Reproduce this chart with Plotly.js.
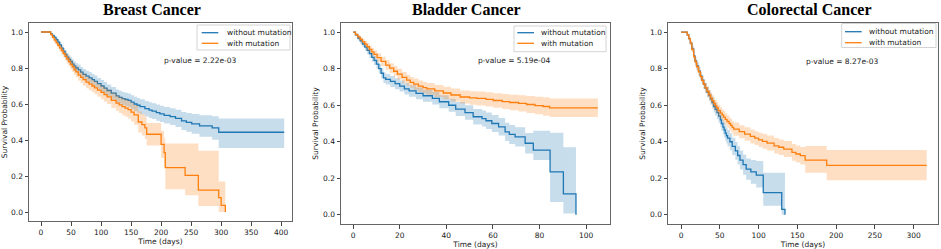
<!DOCTYPE html>
<html>
<head>
<meta charset="utf-8">
<script src="https://cdn.plot.ly/plotly-3.0.1.min.js"></script>
<style>html,body{margin:0;padding:0;background:#fff;}#chart{width:941px;height:249px;}</style>
</head>
<body>
<div id="chart"></div>
<script>
// ---------------- DATA ----------------
const panelTitles = ["Breast Cancer", "Bladder Cancer", "Colorectal Cancer"];
const seriesNames = ["without mutation", "with mutation"];
const pValues = ["p-value = 2.22e-03", "p-value = 5.19e-04", "p-value = 8.27e-03"];
const xTitle = "Time (days)";
const yTitle = "Survival Probability";

// Breast cancer – without mutation
const breastT_wo  = [0, 13, 16, 19, 22, 25, 28, 31, 34, 37, 40, 43, 46, 49, 52, 55, 58, 62, 66, 70, 75, 80, 85, 89, 94, 100, 105, 110, 117, 125, 130, 135, 140, 145, 150, 155, 160, 165, 173, 180, 185, 192, 198, 205, 215, 224, 234, 242, 251, 264, 285, 296, 405];
const breastS_wo  = [1.0, 1.0, 0.99, 0.98, 0.97, 0.957, 0.943, 0.928, 0.91, 0.893, 0.876, 0.86, 0.848, 0.836, 0.822, 0.81, 0.80, 0.79, 0.777, 0.765, 0.755, 0.745, 0.735, 0.726, 0.713, 0.70, 0.688, 0.675, 0.66, 0.645, 0.637, 0.63, 0.625, 0.62, 0.61, 0.60, 0.593, 0.585, 0.574, 0.566, 0.56, 0.552, 0.545, 0.537, 0.53, 0.52, 0.506, 0.498, 0.49, 0.478, 0.467, 0.443, 0.443];
const breastLo_wo = [1.0, 1.0, 0.985, 0.972, 0.96, 0.945, 0.929, 0.912, 0.892, 0.874, 0.856, 0.838, 0.825, 0.812, 0.797, 0.784, 0.773, 0.762, 0.748, 0.735, 0.725, 0.714, 0.704, 0.694, 0.681, 0.667, 0.654, 0.641, 0.625, 0.609, 0.601, 0.593, 0.588, 0.582, 0.571, 0.56, 0.552, 0.543, 0.531, 0.522, 0.516, 0.507, 0.50, 0.491, 0.483, 0.472, 0.456, 0.446, 0.435, 0.418, 0.402, 0.356, 0.356];
const breastHi_wo = [1.0, 1.0, 0.995, 0.988, 0.98, 0.969, 0.957, 0.944, 0.928, 0.912, 0.896, 0.882, 0.871, 0.86, 0.847, 0.836, 0.827, 0.818, 0.806, 0.795, 0.785, 0.776, 0.766, 0.758, 0.745, 0.733, 0.722, 0.709, 0.695, 0.681, 0.673, 0.667, 0.662, 0.658, 0.649, 0.64, 0.634, 0.627, 0.617, 0.61, 0.604, 0.597, 0.59, 0.583, 0.577, 0.568, 0.556, 0.55, 0.545, 0.538, 0.532, 0.52, 0.52];
// Breast cancer – with mutation
const breastT_w  = [0, 13, 16, 19, 22, 25, 28, 31, 34, 37, 40, 43, 46, 49, 52, 55, 58, 62, 66, 70, 75, 80, 85, 89, 94, 100, 105, 110, 117, 125, 130, 135, 140, 145, 150, 155, 162, 168, 173, 176, 200, 205, 207, 240, 262, 296, 300, 307];
const breastS_w  = [1.0, 1.0, 0.985, 0.97, 0.955, 0.94, 0.925, 0.91, 0.897, 0.88, 0.865, 0.85, 0.835, 0.82, 0.806, 0.79, 0.778, 0.76, 0.748, 0.735, 0.722, 0.71, 0.70, 0.69, 0.677, 0.665, 0.652, 0.64, 0.62, 0.605, 0.595, 0.585, 0.577, 0.569, 0.555, 0.54, 0.50, 0.485, 0.467, 0.432, 0.376, 0.33, 0.247, 0.204, 0.122, 0.08, 0.037, 0.0];
const breastLo_w = [1.0, 1.0, 0.979, 0.96, 0.943, 0.926, 0.909, 0.892, 0.877, 0.858, 0.841, 0.825, 0.809, 0.793, 0.778, 0.761, 0.748, 0.729, 0.716, 0.702, 0.688, 0.675, 0.665, 0.654, 0.64, 0.627, 0.613, 0.60, 0.578, 0.561, 0.55, 0.538, 0.529, 0.52, 0.503, 0.485, 0.442, 0.425, 0.405, 0.37, 0.30, 0.25, 0.126, 0.093, 0.033, 0.0, 0.0, 0.0];
const breastHi_w = [1.0, 1.0, 0.991, 0.98, 0.967, 0.954, 0.941, 0.928, 0.917, 0.902, 0.889, 0.875, 0.861, 0.847, 0.834, 0.819, 0.808, 0.791, 0.78, 0.768, 0.756, 0.745, 0.735, 0.726, 0.714, 0.703, 0.691, 0.68, 0.662, 0.649, 0.64, 0.632, 0.625, 0.618, 0.607, 0.595, 0.558, 0.545, 0.529, 0.494, 0.452, 0.41, 0.38, 0.38, 0.34, 0.17, 0.17, 0.17];

// Bladder cancer – without mutation
const bladderT_wo  = [0, 1, 2, 3, 4, 5, 6, 7, 8, 9, 10, 11, 12, 13, 14, 16, 18, 20, 22, 24, 27, 30, 34, 37, 41, 44, 48, 51.5, 55.3, 57, 59.5, 62.4, 65.2, 67, 69.5, 73.8, 77.3, 84.5, 90.2, 95.6];
const bladderS_wo  = [1.0, 0.985, 0.968, 0.952, 0.935, 0.918, 0.9, 0.882, 0.862, 0.845, 0.825, 0.80, 0.775, 0.75, 0.742, 0.73, 0.718, 0.705, 0.69, 0.678, 0.665, 0.652, 0.638, 0.619, 0.60, 0.579, 0.56, 0.537, 0.527, 0.515, 0.50, 0.482, 0.454, 0.44, 0.427, 0.392, 0.354, 0.235, 0.115, 0.0];
const bladderLo_wo = [1.0, 0.977, 0.956, 0.937, 0.918, 0.899, 0.879, 0.859, 0.838, 0.82, 0.799, 0.773, 0.747, 0.721, 0.713, 0.70, 0.688, 0.675, 0.659, 0.647, 0.633, 0.619, 0.604, 0.584, 0.564, 0.541, 0.52, 0.495, 0.483, 0.47, 0.454, 0.434, 0.404, 0.388, 0.374, 0.336, 0.30, 0.07, 0.008, 0.008];
const bladderHi_wo = [1.0, 0.993, 0.98, 0.967, 0.952, 0.937, 0.921, 0.905, 0.886, 0.87, 0.851, 0.827, 0.803, 0.779, 0.771, 0.76, 0.748, 0.735, 0.721, 0.709, 0.697, 0.685, 0.672, 0.654, 0.636, 0.617, 0.60, 0.579, 0.571, 0.56, 0.546, 0.53, 0.504, 0.492, 0.48, 0.448, 0.46, 0.45, 0.37, 0.37];
// Bladder cancer – with mutation
const bladderT_w  = [0, 1, 2, 3, 4, 5, 6, 7, 8, 9, 10.3, 12, 14, 15.7, 17.4, 19, 21, 23, 24.5, 26, 28, 30, 31.6, 35, 38.7, 42, 45.9, 50, 53, 57, 60.1, 64, 67.2, 71, 74.4, 78, 81.5, 84.3, 105];
const bladderS_w  = [1.0, 0.987, 0.974, 0.96, 0.947, 0.934, 0.92, 0.906, 0.892, 0.878, 0.86, 0.84, 0.82, 0.803, 0.786, 0.77, 0.752, 0.737, 0.725, 0.715, 0.705, 0.696, 0.689, 0.678, 0.667, 0.656, 0.645, 0.64, 0.637, 0.632, 0.626, 0.62, 0.615, 0.61, 0.604, 0.598, 0.593, 0.586, 0.586];
const bladderLo_w = [1.0, 0.981, 0.964, 0.947, 0.932, 0.917, 0.901, 0.886, 0.871, 0.856, 0.836, 0.815, 0.794, 0.776, 0.758, 0.741, 0.722, 0.707, 0.695, 0.684, 0.674, 0.665, 0.657, 0.645, 0.633, 0.621, 0.609, 0.603, 0.599, 0.593, 0.586, 0.579, 0.573, 0.566, 0.558, 0.55, 0.543, 0.535, 0.535];
const bladderHi_w = [1.0, 0.993, 0.984, 0.973, 0.962, 0.951, 0.939, 0.926, 0.913, 0.90, 0.884, 0.865, 0.846, 0.83, 0.814, 0.799, 0.782, 0.767, 0.755, 0.746, 0.736, 0.727, 0.721, 0.711, 0.701, 0.691, 0.681, 0.677, 0.675, 0.671, 0.666, 0.661, 0.657, 0.654, 0.65, 0.646, 0.643, 0.637, 0.637];

// Colorectal cancer – without mutation
const colorectalT_wo  = [0, 5.6, 8, 10, 12, 14, 16.3, 18, 20, 22.5, 24.9, 27, 29, 31, 33.5, 36, 38, 40, 42.1, 44, 46.4, 48.5, 50.7, 52, 54, 55.5, 57, 58.5, 60, 63, 66, 70, 73, 76, 80, 84, 90, 97, 106, 129.8, 134];
const colorectalS_wo  = [1.0, 1.0, 0.985, 0.965, 0.94, 0.908, 0.87, 0.842, 0.815, 0.787, 0.76, 0.737, 0.715, 0.694, 0.672, 0.653, 0.635, 0.615, 0.593, 0.578, 0.56, 0.54, 0.52, 0.50, 0.48, 0.465, 0.447, 0.433, 0.42, 0.40, 0.375, 0.35, 0.325, 0.30, 0.275, 0.25, 0.235, 0.217, 0.122, 0.03, 0.0];
const colorectalLo_wo = [1.0, 1.0, 0.979, 0.955, 0.927, 0.892, 0.852, 0.822, 0.794, 0.764, 0.736, 0.712, 0.688, 0.666, 0.643, 0.623, 0.604, 0.583, 0.56, 0.544, 0.525, 0.504, 0.482, 0.461, 0.44, 0.424, 0.405, 0.39, 0.376, 0.354, 0.328, 0.301, 0.275, 0.248, 0.22, 0.192, 0.17, 0.15, 0.05, 0.0, 0.0];
const colorectalHi_wo = [1.0, 1.0, 0.991, 0.975, 0.953, 0.924, 0.888, 0.862, 0.836, 0.81, 0.784, 0.762, 0.742, 0.722, 0.701, 0.683, 0.666, 0.647, 0.626, 0.612, 0.595, 0.576, 0.558, 0.539, 0.52, 0.506, 0.489, 0.476, 0.464, 0.446, 0.422, 0.399, 0.375, 0.352, 0.33, 0.308, 0.30, 0.295, 0.23, 0.23, 0.23];
// Colorectal cancer – with mutation
const colorectalT_w  = [0, 5.6, 8, 10, 12, 14, 16.3, 18, 20, 22.5, 24.9, 27, 29, 31, 33.5, 36, 38, 40, 42.1, 44, 46, 48, 50.7, 53, 55, 57, 59.3, 62, 64, 66, 67.9, 75, 82, 89.4, 95, 100, 105, 110.9, 120, 126, 132.4, 143, 148, 153.8, 160, 187.8, 316.7];
const colorectalS_w  = [1.0, 1.0, 0.985, 0.965, 0.94, 0.905, 0.866, 0.838, 0.81, 0.783, 0.757, 0.735, 0.715, 0.695, 0.675, 0.657, 0.64, 0.625, 0.611, 0.598, 0.585, 0.571, 0.557, 0.546, 0.535, 0.523, 0.511, 0.50, 0.49, 0.479, 0.469, 0.455, 0.442, 0.429, 0.42, 0.41, 0.402, 0.393, 0.378, 0.37, 0.36, 0.342, 0.333, 0.324, 0.30, 0.271, 0.271];
const colorectalLo_w = [1.0, 1.0, 0.979, 0.955, 0.927, 0.89, 0.849, 0.819, 0.79, 0.761, 0.735, 0.711, 0.69, 0.669, 0.648, 0.629, 0.612, 0.596, 0.581, 0.568, 0.554, 0.54, 0.525, 0.514, 0.502, 0.49, 0.477, 0.466, 0.455, 0.444, 0.433, 0.419, 0.405, 0.391, 0.382, 0.371, 0.362, 0.352, 0.336, 0.327, 0.316, 0.296, 0.286, 0.276, 0.231, 0.189, 0.189];
const colorectalHi_w = [1.0, 1.0, 0.991, 0.975, 0.953, 0.92, 0.883, 0.857, 0.83, 0.805, 0.779, 0.759, 0.74, 0.721, 0.702, 0.685, 0.668, 0.654, 0.641, 0.628, 0.616, 0.602, 0.589, 0.578, 0.568, 0.556, 0.545, 0.534, 0.525, 0.514, 0.505, 0.491, 0.479, 0.467, 0.458, 0.449, 0.442, 0.434, 0.42, 0.413, 0.404, 0.388, 0.38, 0.372, 0.377, 0.355, 0.355];

// ---------------- STYLE ----------------
const W = 941, H = 249;
const BLUE = "#1f77b4", ORANGE = "#ff7f0e";
const BLUE_FILL = "rgba(31,119,180,0.25)", ORANGE_FILL = "rgba(255,127,14,0.25)";
const FONT = "DejaVu Sans";
const FS = 7.5;
const px = v => v / W;
const py = v => 1 - v / H;

const traces = [];
function addKM(xa, ya, t, s, lo, hi, color, fill, name) {
  traces.push({x: t, y: lo, xaxis: xa, yaxis: ya, mode: "lines", line: {width: 0, shape: "hv"}, hoverinfo: "skip", showlegend: false});
  traces.push({x: t, y: hi, xaxis: xa, yaxis: ya, mode: "lines", line: {width: 0, shape: "hv"}, fill: "tonexty", fillcolor: fill, hoverinfo: "skip", showlegend: false});
  traces.push({x: t, y: s, xaxis: xa, yaxis: ya, mode: "lines", name: name, line: {color: color, width: 1.3, shape: "hv"}, showlegend: false});
}
addKM("x", "y", breastT_wo, breastS_wo, breastLo_wo, breastHi_wo, BLUE, BLUE_FILL, seriesNames[0]);
addKM("x", "y", breastT_w, breastS_w, breastLo_w, breastHi_w, ORANGE, ORANGE_FILL, seriesNames[1]);
addKM("x2", "y2", bladderT_wo, bladderS_wo, bladderLo_wo, bladderHi_wo, BLUE, BLUE_FILL, seriesNames[0]);
addKM("x2", "y2", bladderT_w, bladderS_w, bladderLo_w, bladderHi_w, ORANGE, ORANGE_FILL, seriesNames[1]);
addKM("x3", "y3", colorectalT_wo, colorectalS_wo, colorectalLo_wo, colorectalHi_wo, BLUE, BLUE_FILL, seriesNames[0]);
addKM("x3", "y3", colorectalT_w, colorectalS_w, colorectalLo_w, colorectalHi_w, ORANGE, ORANGE_FILL, seriesNames[1]);

// panel frames in pixels
const panels = [
  {l: 29, r: 292, t: 23, b: 221, xr: [-20, 418], dt: 50, title: 152, legend: {l: 197, r: 290, t: 25, b: 50, ll: 201.7, lr: 218.3, y1: 32.7, y2: 43.3, tx: 225}, pv: {x: 162.3, y: 61}},
  {l: 341, r: 610, t: 23, b: 224, xr: [-5.2, 110.2], dt: 20, title: 466, legend: {l: 514, r: 606, t: 26, b: 51.7, ll: 517.3, lr: 534, y1: 32.7, y2: 43.3, tx: 539.3}, pv: {x: 475.7, y: 61}},
  {l: 668, r: 938, t: 23, b: 224, xr: [-16.8, 331.3], dt: 50, title: 809, legend: {l: 841.7, r: 936, t: 23.5, b: 47.5, ll: 845, lr: 861.7, y1: 31.7, y2: 42.7, tx: 866.7}, pv: {x: 804.3, y: 61.7}}
];

const layout = {
  width: W, height: H,
  margin: {l: 0, r: 0, t: 0, b: 0},
  paper_bgcolor: "#fff", plot_bgcolor: "#fff",
  showlegend: false,
  font: {family: FONT, size: FS, color: "#222"},
  shapes: [], annotations: []
};

panels.forEach((p, i) => {
  const sx = i === 0 ? "" : String(i + 1);
  layout["xaxis" + sx] = {
    domain: [px(p.l), px(p.r)], anchor: "y" + sx, range: p.xr,
    dtick: p.dt, tick0: 0, ticks: "outside", ticklen: 3.5, tickwidth: 1, tickcolor: "#444",
    showline: true, mirror: true, linecolor: "#666", linewidth: 1,
    showgrid: false, zeroline: false,
    tickfont: {family: FONT, size: FS, color: "#1a1a1a"},
    title: {text: xTitle, font: {family: FONT, size: FS, color: "#1a1a1a"}, standoff: 2}
  };
  layout["yaxis" + sx] = {
    domain: [py(p.b), py(p.t)], anchor: "x" + sx, range: [-0.05, 1.05],
    dtick: 0.2, tick0: 0, tickformat: ".1f", ticks: "outside", ticklen: 3.5, tickwidth: 1, tickcolor: "#444",
    showline: true, mirror: true, linecolor: "#666", linewidth: 1,
    showgrid: false, zeroline: false,
    tickfont: {family: FONT, size: FS, color: "#1a1a1a"},
    title: {text: yTitle, font: {family: FONT, size: FS, color: "#1a1a1a"}, standoff: 3}
  };
  // panel title
  layout.annotations.push({xref: "paper", yref: "paper", x: px(p.title), y: py(9), xanchor: "center", yanchor: "middle",
    text: "<b>" + panelTitles[i] + "</b>", showarrow: false, font: {family: "Liberation Serif", size: 16, color: "#000"}});
  // legend box
  const L = p.legend;
  layout.shapes.push({type: "rect", xref: "paper", yref: "paper", x0: px(L.l), x1: px(L.r), y0: py(L.b), y1: py(L.t),
    line: {color: "#d4d4d4", width: 1}, fillcolor: "rgba(255,255,255,0.8)"});
  layout.shapes.push({type: "line", xref: "paper", yref: "paper", x0: px(L.ll), x1: px(L.lr), y0: py(L.y1), y1: py(L.y1), line: {color: BLUE, width: 1.3}});
  layout.shapes.push({type: "line", xref: "paper", yref: "paper", x0: px(L.ll), x1: px(L.lr), y0: py(L.y2), y1: py(L.y2), line: {color: ORANGE, width: 1.3}});
  layout.annotations.push({xref: "paper", yref: "paper", x: px(L.tx), y: py(L.y1), xanchor: "left", yanchor: "middle",
    text: seriesNames[0], showarrow: false, font: {family: FONT, size: FS, color: "#1a1a1a"}});
  layout.annotations.push({xref: "paper", yref: "paper", x: px(L.tx), y: py(L.y2), xanchor: "left", yanchor: "middle",
    text: seriesNames[1], showarrow: false, font: {family: FONT, size: FS, color: "#1a1a1a"}});
  // p-value
  layout.annotations.push({xref: "paper", yref: "paper", x: px(p.pv.x), y: py(p.pv.y), xanchor: "left", yanchor: "middle",
    text: pValues[i], showarrow: false, font: {family: FONT, size: FS, color: "#1a1a1a"}});
});

Plotly.newPlot("chart", traces, layout, {staticPlot: true, displayModeBar: false});
</script>
</body>
</html>
